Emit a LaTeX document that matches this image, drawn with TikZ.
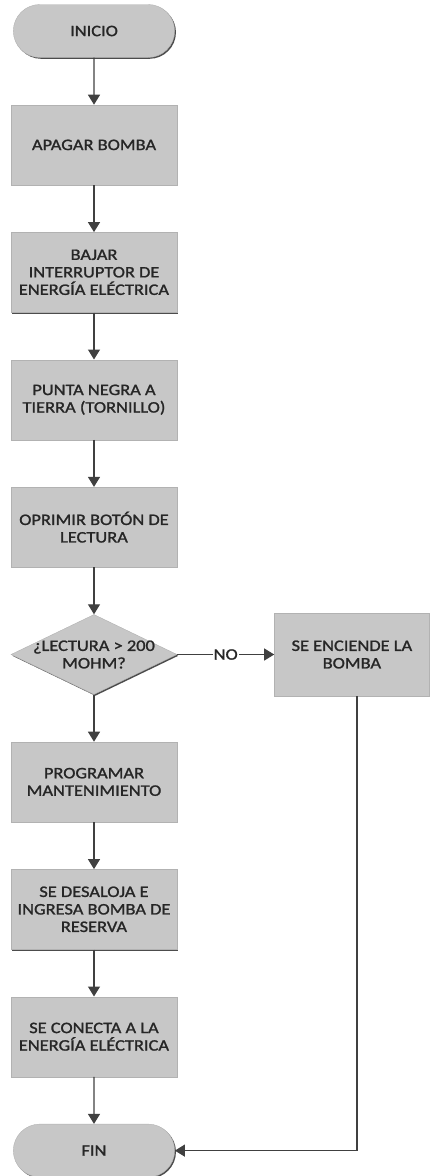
\documentclass[tikz,border=0pt]{standalone}
\usepackage{fontspec}
\setmainfont{Carlito}[FakeStretch=1.15, FakeBold=1.3]
\usepackage{tikz}
\usetikzlibrary{arrows.meta,positioning,shapes.geometric,shapes.misc,shadows}

\begin{document}
\begin{tikzpicture}[
    x=1pt, y=-1pt,
    node distance=47pt and 97pt,
    every node/.style={font=\fontsize{16}{17.5}\selectfont, text=black!85},
    shade/.style={drop shadow={shadow xshift=1.3pt, shadow yshift=-1.3pt,
                fill=black!70, opacity=1}},
    proc/.style={draw=black!30, fill=black!22, minimum height=80pt,
                minimum width=166pt, align=center, shade},
    term/.style={rounded rectangle, draw=black!30, fill=black!22,
                minimum height=53pt, minimum width=168pt, shade},
    decision/.style={diamond, draw=black!30, fill=black!22, inner sep=0pt,
                minimum width=166pt, minimum height=80pt, shade},
    arr/.style={-{Triangle[width=12pt,length=10pt]}, line width=1.2pt, draw=black!75}
]
\useasboundingbox (0,0) rectangle (430,1176);
\node[term] (inicio) at (94,31) {INICIO};
\node[proc, below=of inicio] (apagar) {APAGAR BOMBA};
\node[proc, below=of apagar] (bajar) {BAJAR\\INTERRUPTOR DE\\ENERGÍA ELÉCTRICA};
\node[proc, below=of bajar] (punta) {PUNTA NEGRA A\\TIERRA (TORNILLO)};
\node[proc, below=of punta] (oprimir) {OPRIMIR BOTÓN DE\\LECTURA};
\node[decision, below=of oprimir] (lect) {};
\node[align=center] (lecttxt) at (lect) {¿LECTURA > 200\\MOHM?};
\node[proc, minimum width=155pt, minimum height=83pt, right=of lect] (enciende) {SE ENCIENDE LA\\BOMBA};
\node[proc, below=of lect] (programar) {PROGRAMAR\\MANTENIMIENTO};
\node[proc, below=of programar] (desaloja) {SE DESALOJA E\\INGRESA BOMBA DE\\RESERVA};
\node[proc, below=of desaloja] (conecta) {SE CONECTA A LA\\ENERGÍA ELÉCTRICA};
\node[term, below=of conecta] (fin) {FIN};
\draw[arr] (inicio) -- (apagar);
\draw[arr] (apagar) -- (bajar);
\draw[arr] (bajar) -- (punta);
\draw[arr] (punta) -- (oprimir);
\draw[arr] (oprimir) -- (lect);
\draw[arr] (lect.east) -- node[fill=white, inner sep=1pt] {NO} (enciende.west);
\draw[arr] (lect) -- (programar);
\draw[arr] (programar) -- (desaloja);
\draw[arr] (desaloja) -- (conecta);
\draw[arr] (conecta) -- (fin);
\draw[arr] ([xshift=5pt]enciende.south) |- (fin.east);
\end{tikzpicture}
\end{document}
